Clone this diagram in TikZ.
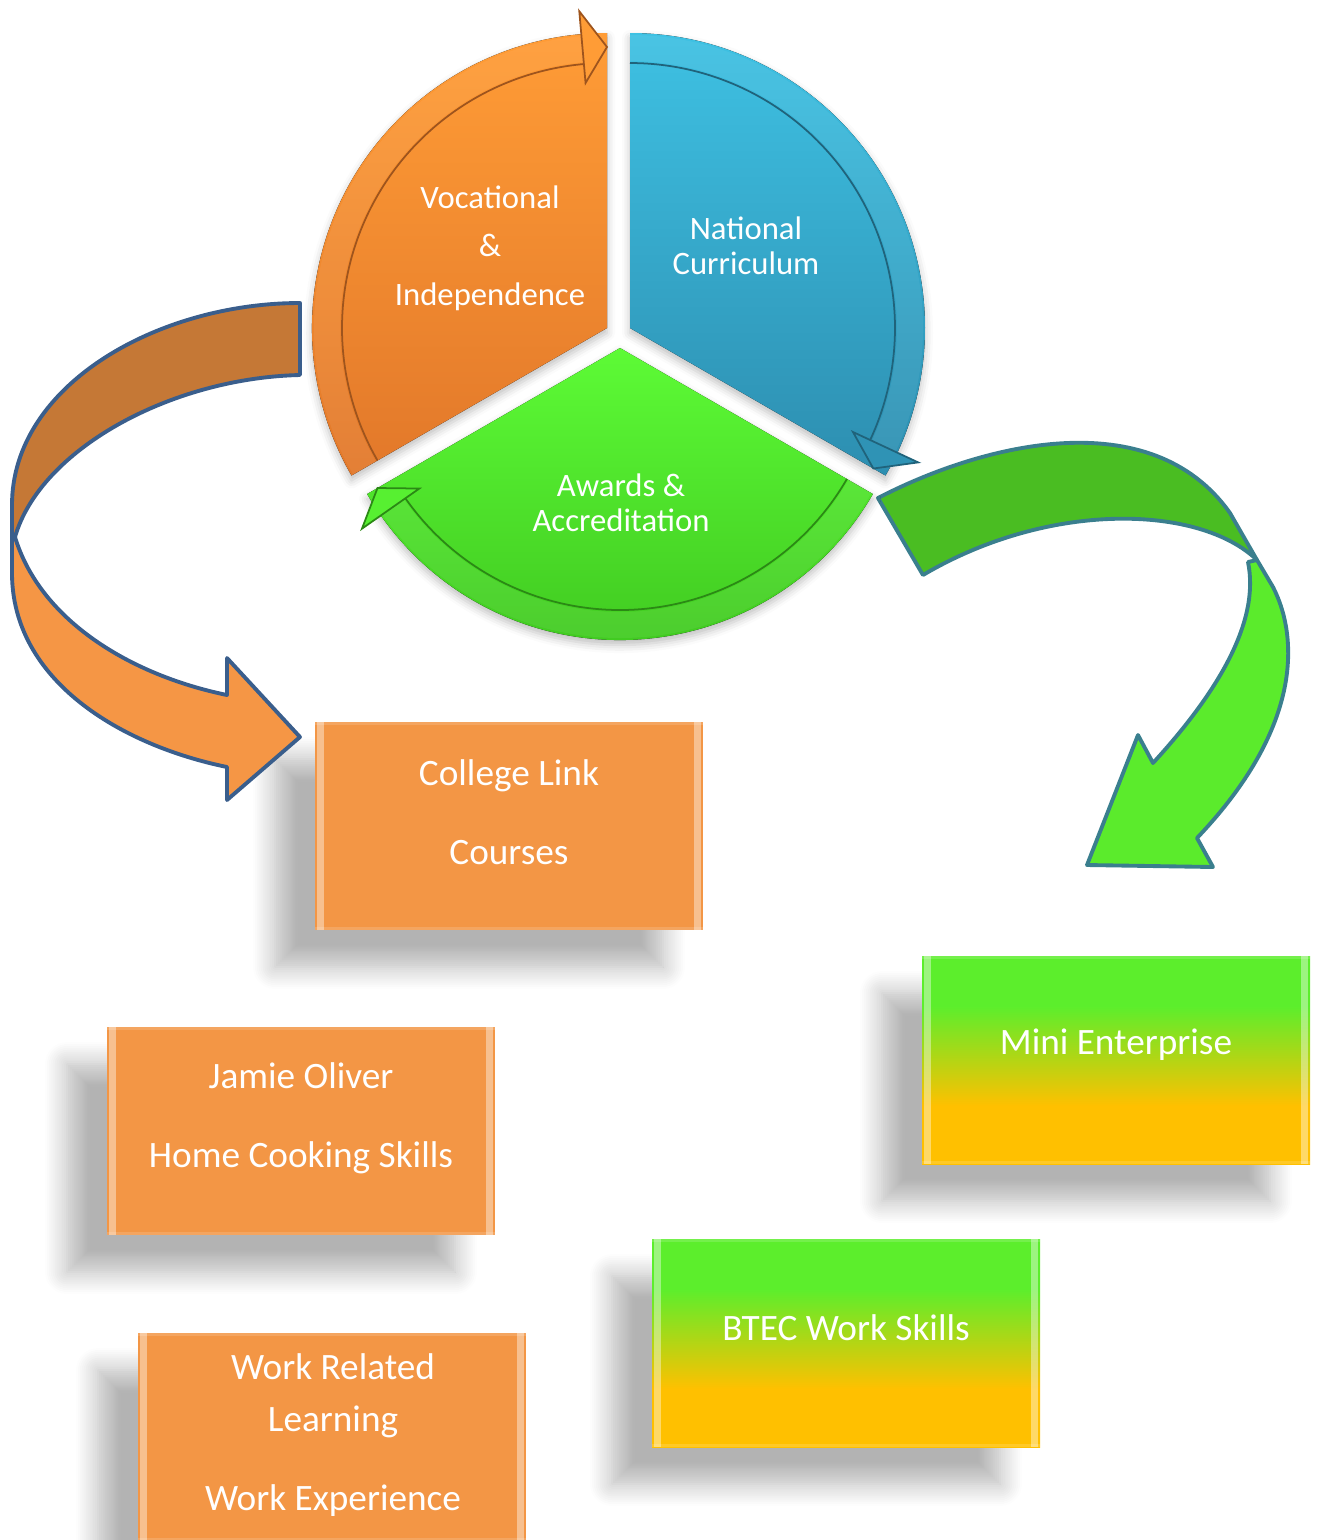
\documentclass[tikz,border=0pt]{standalone}
\usepackage{fontspec}
\setmainfont{Carlito}
\usetikzlibrary{shadows.blur,positioning}

\definecolor{boxorange}{HTML}{F39645}
\definecolor{orTop}{HTML}{FF9C36}
\definecolor{orBot}{HTML}{E2782A}
\definecolor{blTop}{HTML}{3EC1E3}
\definecolor{blBot}{HTML}{2D8EB0}
\definecolor{grTop}{HTML}{5DFB36}
\definecolor{grBot}{HTML}{3DC41E}
\definecolor{arBrown}{HTML}{C57836}
\definecolor{arOrange}{HTML}{F59645}
\definecolor{arLine}{HTML}{3A5E8C}
\definecolor{agDark}{HTML}{4ABD22}
\definecolor{agLight}{HTML}{5BEB2C}
\definecolor{agLine}{HTML}{3A7F8E}
\definecolor{gyTop}{HTML}{5CEE2C}
\definecolor{gyBot}{HTML}{FFC000}

\pgfdeclareverticalshading{greenyellow}{100bp}{color(0bp)=(gyBot); color(39bp)=(gyBot); color(63bp)=(gyTop); color(100bp)=(gyTop)}

\begin{document}
\begin{tikzpicture}[boxbase/.style={rectangle, minimum width=3.88cm, minimum height=2.08cm, inner sep=0pt,
    blur shadow={shadow xshift=-0.40cm, shadow yshift=-0.37cm, shadow opacity=30, shadow blur radius=0.22cm, shadow blur steps=12},
    path picture={
      \fill[white, opacity=0.4] ([xshift=0.02cm]path picture bounding box.south west) rectangle ([xshift=0.09cm]path picture bounding box.north west);
      \fill[white, opacity=0.4] ([xshift=-0.09cm]path picture bounding box.south east) rectangle ([xshift=-0.02cm]path picture bounding box.north east);
      \fill[white, opacity=0.15] ([yshift=-0.03cm]path picture bounding box.north west) rectangle (path picture bounding box.north east);
      \fill[white, opacity=0.15] (path picture bounding box.south west) rectangle ([yshift=0.03cm]path picture bounding box.south east);}},
  orangebox/.style={boxbase, fill=boxorange},
  greenbox/.style={boxbase, shading=greenyellow},
  boxtext/.style={text=white, align=center, font=\fontsize{10.6}{15}\selectfont},
  pietext/.style={text=white, align=center, font=\fontsize{9.3}{10}\selectfont},
  wedgeshadow/.style={blur shadow={shadow xshift=0cm, shadow yshift=-0.05cm, shadow opacity=25, shadow blur radius=0.08cm}},
  rimline/.style={line width=0.5pt},
  rimlight/.style={white, opacity=0.06, line width=0.26cm},
  bigarrow/.style={line width=1.1pt, line join=round}]

\useasboundingbox (0,0) rectangle (13.19,-15.40);

% boxes
\node[orangebox] (college) at (5.09,-8.26) {};
\node[orangebox] (jamie) at (3.01,-11.31) {};
\node[orangebox] (work) at (3.32,-14.37) {};
\node[greenbox] (mini) at (11.16,-10.60) {};
\node[greenbox] (btec) at (8.46,-13.43) {};

\node[boxtext] (college-t) at ([yshift=0.14cm]college.center) {College Link\\[7.5pt]Courses};
\node[boxtext] (jamie-t) at ([yshift=0.13cm]jamie.center) {Jamie Oliver\\[7.5pt]Home Cooking Skills};
\node[boxtext] (work-t) at (3.33,-14.35) {Work Related\\Learning\\[7.5pt]Work Experience};
\node[boxtext] (mini-t) at ([yshift=0.15cm]mini.center) {Mini Enterprise};
\node[boxtext] (btec-t) at ([yshift=0.15cm]btec.center) {BTEC Work Skills};

% left arrow
\filldraw[bigarrow, fill=arBrown, draw=arLine] (3.00,-3.03) .. controls (1.58,-3.03) and (0.12,-3.85) .. (0.12,-5.05)
  -- (0.12,-5.37) -- (0.15,-5.37) .. controls (0.40,-4.50) and (1.70,-3.78) .. (3.00,-3.75) -- cycle;
\filldraw[bigarrow, fill=arOrange, draw=arLine] (0.15,-5.37) .. controls (0.40,-6.20) and (1.30,-6.75) .. (2.27,-6.95)
  -- (2.27,-6.58) -- (3.00,-7.37) -- (2.27,-8.00) -- (2.27,-7.67)
  .. controls (1.20,-7.45) and (0.12,-6.80) .. (0.12,-5.73) -- (0.12,-5.37) -- cycle;

% right arrow
\filldraw[bigarrow, fill=agDark, draw=agLine] (8.78,-4.98) .. controls (9.80,-4.45) and (11.50,-4.00) .. (12.30,-5.13)
  -- (12.57,-5.60) .. controls (12.00,-5.05) and (10.50,-5.00) .. (9.23,-5.75) -- cycle;
\filldraw[bigarrow, fill=agLight, draw=agLine] (12.57,-5.60) -- (12.73,-5.87) .. controls (13.00,-6.40) and (13.00,-7.30) .. (11.97,-8.38)
  -- (12.13,-8.67) -- (10.87,-8.65) -- (11.38,-7.35) -- (11.53,-7.63)
  .. controls (12.20,-6.90) and (12.60,-6.20) .. (12.48,-5.62) -- cycle;

% orange part
\begin{scope}[shift={(6.07,-3.28)}]
  \fill[top color=orTop, bottom color=orBot, wedgeshadow] (0,0) -- (210:2.95) arc[start angle=210, end angle=90, radius=2.95] -- cycle;
  \draw[rimlight] (210:2.80) arc[start angle=210, end angle=95, radius=2.80];
  \draw[rimline, draw=orBot!70!black] (210:2.65) arc[start angle=210, end angle=95, radius=2.65];
  \filldraw[rimline, fill=orTop, draw=orBot!70!black] (95:2.46) -- (90:2.81) -- (95:3.18) -- cycle;
\end{scope}

% blue part
\begin{scope}[shift={(6.30,-3.28)}]
  \fill[top color=blTop, bottom color=blBot, wedgeshadow] (0,0) -- (90:2.95) arc[start angle=90, end angle=-30, radius=2.95] -- cycle;
  \draw[rimlight] (90:2.80) arc[start angle=90, end angle=-25, radius=2.80];
  \draw[rimline, draw=blBot!70!black] (90:2.65) arc[start angle=90, end angle=-25, radius=2.65];
  \filldraw[rimline, fill=blBot!90!blTop, draw=blBot!70!black] (-25:2.46) -- (-30:2.81) -- (-25:3.18) -- cycle;
\end{scope}

% green part
\begin{scope}[shift={(6.20,-3.48)}]
  \fill[top color=grTop, bottom color=grBot, wedgeshadow] (0,0) -- (330:2.92) arc[start angle=330, end angle=210, radius=2.92] -- cycle;
  \draw[rimlight] (330:2.77) arc[start angle=330, end angle=215, radius=2.77];
  \draw[rimline, draw=grBot!70!black] (330:2.62) arc[start angle=330, end angle=215, radius=2.62];
  \filldraw[rimline, fill=grTop!80!grBot, draw=grBot!70!black] (215:2.45) -- (210:2.80) -- (215:3.15) -- cycle;
\end{scope}

\node[pietext] (voc) at (4.90,-2.48) {Vocational\\[3.8pt]\&\\[3.8pt]Independence};
\node[pietext] (nat) at (7.46,-2.46) {National\\Curriculum};
\node[pietext] (awd) at (6.21,-5.03) {Awards \&\\Accreditation};
\end{tikzpicture}
\end{document}
